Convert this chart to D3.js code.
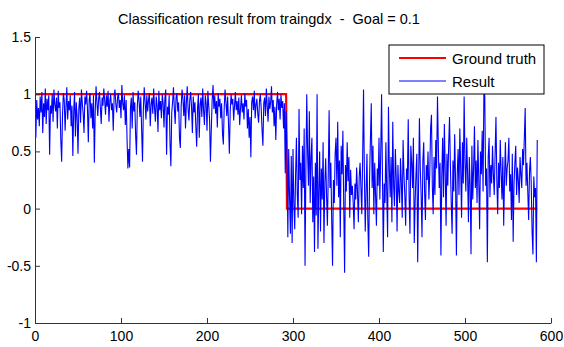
<!DOCTYPE html>
<html>
<head>
<meta charset="utf-8">
<script src="https://cdn.jsdelivr.net/npm/d3@7"></script>
<style>
  body { margin: 0; background: #fff; }
  svg { display: block; font-family: "Liberation Sans", Arial, sans-serif; }
</style>
</head>
<body>
<svg id="chart" width="564" height="347"></svg>
<script>
// chart text
const title = 'Classification result from traingdx  -  Goal = 0.1';
const seriesNames = ['Ground truth', 'Result'];
const xTicks = [0, 100, 200, 300, 400, 500, 600];
const yTicks = [-1, -0.5, 0, 0.5, 1, 1.5];

// ground truth: class 1 for the first 292 samples, class 0 for the next 292
const truthSteps = [
  {from: 1, to: 292, value: 1},
  {from: 293, to: 584, value: 0}
];

// network output (samples 1..292)
const resultClass1 = [
  0.62, 0.95, 0.78, 0.88, 0.72, 0.98, 0.84, 1.02, 0.66, 0.92, 0.80, 1.05, 0.74, 0.96, 0.86, 0.99, 0.47, 0.90, 0.83, 1.00,
  0.76, 1.04, 0.91, 0.85, 0.97, 0.70, 1.03, 0.88, 0.93, 0.60, 0.41, 0.82, 1.01, 0.95, 0.68, 0.89, 1.06, 0.78, 0.94, 0.86,
  0.99, 0.72, 0.90, 0.46, 0.85, 1.02, 0.63, 0.93, 0.80, 0.48, 0.88, 0.97, 0.75, 1.04, 0.92, 0.83, 0.66, 0.98, 0.91, 1.03,
  0.87, 0.58, 0.95, 1.01, 0.79, 0.92, 0.70, 0.99, 0.40, 0.84, 1.07, 0.93, 0.81, 0.96, 1.02, 0.88, 0.74, 0.97, 0.90, 1.05,
  0.95, 0.82, 0.99, 0.89, 1.03, 0.76, 0.94, 1.00, 0.86, 0.92, 0.68, 0.98, 1.04, 0.91, 0.84, 0.97, 1.01, 0.88, 0.95, 0.79,
  1.08, 0.92, 0.86, 0.99, 0.73, 0.95, 0.62, 0.35, 0.52, 0.36, 0.88, 0.97, 0.70, 1.02, 0.85, 0.93, 0.64, 0.47, 0.90, 1.03,
  0.94, 0.80, 0.98, 0.69, 0.41, 0.87, 1.06, 0.93, 0.78, 0.99, 0.85, 0.95, 1.01, 0.72, 0.91, 0.97, 0.83, 1.05, 0.88, 0.76,
  0.98, 0.90, 0.67, 1.03, 0.86, 0.94, 0.79, 1.00, 0.92, 0.71, 0.96, 1.04, 0.47, 0.89, 0.82, 0.99, 0.57, 0.37, 0.84, 0.93,
  1.06, 0.88, 0.74, 0.97, 1.01, 0.85, 0.93, 0.62, 0.53, 0.90, 1.04, 0.96, 0.81, 0.99, 0.70, 0.92, 1.07, 0.87, 0.77, 0.95,
  1.02, 0.89, 0.66, 0.98, 0.84, 0.93, 0.72, 0.54, 0.88, 1.00, 0.62, 0.91, 0.97, 0.80, 1.05, 0.86, 0.73, 0.99, 0.92, 0.68,
  1.03, 0.90, 0.78, 0.41, 0.69, 0.95, 1.08, 0.87, 0.99, 0.83, 0.94, 0.71, 1.01, 0.89, 0.96, 0.79, 0.92, 0.66, 0.56, 0.88,
  1.04, 0.93, 0.81, 0.98, 0.74, 0.48, 0.85, 1.00, 0.91, 0.96, 0.77, 0.90, 1.02, 0.86, 0.94, 0.82, 0.97, 0.73, 0.88, 0.99,
  0.84, 0.92, 0.78, 1.01, 0.89, 0.95, 0.70, 0.87, 0.62, 0.80, 0.45, 0.93, 0.98, 0.86, 1.03, 0.79, 0.91, 0.96, 0.83, 0.75,
  0.94, 1.00, 0.88, 0.69, 0.55, 0.92, 0.97, 0.81, 1.05, 0.90, 0.76, 0.98, 0.87, 0.93, 1.07, 0.84, 0.95, 0.72, 0.89, 0.60,
  0.91, 1.02, 0.86, 0.96, 0.78, 1.00, 0.88, 0.94, 0.70, 0.92, 0.31, 0.85
];

// network output (samples 293..584)
const resultClass0 = [
  0.49, -0.25, 0.52, 0.10, -0.22, 0.46, -0.30, 0.52, 0.05, -0.18, 0.30, 0.62, 0.12, -0.08, 0.87, 0.25, 0.40, -0.05, 0.55, 0.18,
  0.70, -0.50, 0.35, 1.00, 0.48, 0.20, 0.85, 0.05, 0.45, 0.62, -0.12, 0.28, -0.38, 0.40, -0.06, 1.00, -0.35, 0.15, 0.50, -0.20,
  0.35, 0.08, 0.58, -0.30, 0.22, 0.44, 0.12, -0.15, 0.30, 0.86, 0.18, 0.40, -0.10, -0.50, 0.25, 0.05, 0.48, 0.62, 0.20, 0.76,
  0.10, 0.42, -0.25, 0.55, 0.30, 0.68, 0.02, -0.56, 0.38, 0.15, 0.58, 0.24, 0.45, -0.08, 0.34, 0.12, 0.20, 0.05, -0.18, 0.22,
  0.08, 0.36, 0.14, -0.12, 0.28, 0.40, 0.18, -0.05, 0.45, 1.04, 0.30, -0.20, 0.15, 0.48, -0.10, -0.42, 0.25, 0.60, 0.92, 0.18,
  0.55, -0.05, 0.40, 0.12, -0.15, 0.35, 0.20, 0.62, 0.08, 0.48, 1.00, 0.30, -0.38, 0.22, 0.05, 0.58, 0.14, -0.25, 0.89, 0.36,
  0.10, 0.45, -0.12, 0.76, 0.20, 0.02, 0.52, 0.28, -0.20, 0.38, 0.15, 0.05, 0.44, 0.22, -0.08, 0.60, 0.30, 0.12, -0.15, 0.35,
  0.25, 0.78, 0.10, -0.22, 0.55, 0.40, 0.18, 0.62, -0.30, 0.05, 0.30, 0.48, -0.47, 0.20, 0.79, 0.35, 0.12, -0.25, 0.42, 0.58,
  0.15, -0.10, 0.38, 0.25, 0.50, 0.08, 0.30, 0.70, 0.82, 0.20, -0.05, 0.45, 0.12, 0.60, 0.35, 0.98, 0.55, 0.18, 0.40, -0.41,
  0.28, 0.62, 0.10, 0.74, 0.32, -0.15, 0.48, 0.20, 0.55, 0.80, 0.38, 0.05, -0.22, 0.42, 0.15, 0.65, 0.25, -0.41, 0.30, 0.52,
  0.12, 0.70, 0.35, -0.08, 0.58, 0.22, 0.98, 0.40, 0.15, 0.62, 0.30, -0.12, 0.45, 0.20, -0.40, 0.55, 0.08, 0.36, 0.72, 0.18,
  0.42, 0.05, 0.60, 0.25, -0.18, 0.50, 0.30, 0.68, 0.15, 1.05, 0.98, 0.20, 0.35, -0.47, 0.45, 0.62, 0.10, 0.38, 0.22, 0.55,
  0.30, 0.12, 0.48, 0.80, 0.25, -0.05, 0.40, 0.18, 0.60, 0.32, 0.08, 0.45, -0.15, 0.28, 0.58, 0.20, 0.35, 0.42, 0.62, 0.15,
  0.30, -0.10, 0.48, -0.29, 0.22, 0.40, 0.55, 0.12, 0.36, 0.25, 0.05, 0.45, 0.30, 0.18, 0.52, 0.38, 0.62, 0.88, 0.20, 0.40,
  0.15, -0.10, 0.32, 0.45, 0.22, -0.20, -0.40, 0.28, 0.10, 0.18, -0.47, 0.60
];

const margin = {top: 37, right: 13, bottom: 24, left: 35};
const width = 564, height = 347;

const svg = d3.select('#chart');
const innerW = width - margin.left - margin.right;
const innerH = height - margin.top - margin.bottom;

const xScale = d3.scaleLinear().domain([0, 600]).range([0, innerW]);
const yScale = d3.scaleLinear().domain([-1, 1.5]).range([innerH, 0]);

const g = svg.append('g').attr('transform', `translate(${margin.left},${margin.top})`);

// build point lists
const truthPts = [];
truthSteps.forEach(s => {
  truthPts.push([s.from, s.value]);
  truthPts.push([s.to, s.value]);
});
const resultPts = resultClass1.concat(resultClass0).map((v, i) => [i + 1, v]);

const line = d3.line().x(d => xScale(d[0])).y(d => yScale(d[1]));

g.append('path')
  .datum(truthPts)
  .attr('fill', 'none')
  .attr('stroke', '#ff0000')
  .attr('stroke-width', 2.2)
  .attr('d', line);

g.append('path')
  .datum(resultPts)
  .attr('fill', 'none')
  .attr('stroke', '#0000ff')
  .attr('stroke-width', 1.1)
  .attr('d', line);

// axes, ticks point inward like matlab
const xAxis = g.append('g')
  .attr('transform', `translate(0,${innerH})`)
  .call(d3.axisBottom(xScale).tickValues(xTicks).tickSizeInner(-5).tickSizeOuter(0).tickPadding(8));

const yAxis = g.append('g')
  .call(d3.axisLeft(yScale).tickValues(yTicks).tickSizeInner(-5).tickSizeOuter(0).tickPadding(4)
    .tickFormat(d => String(d)));

[xAxis, yAxis].forEach(a => {
  a.selectAll('path, line').attr('stroke', '#333').attr('stroke-width', 1);
  a.selectAll('text')
    .attr('fill', '#000')
    .style('font-size', '14px')
    .style('font-family', '"Liberation Sans", Arial, sans-serif');
});

// title
svg.append('text')
  .attr('x', 269)
  .attr('y', 24)
  .attr('text-anchor', 'middle')
  .style('font-size', '14.5px')
  .style('white-space', 'pre')
  .attr('fill', '#000')
  .text(title);

// legend
const legend = svg.append('g').attr('transform', 'translate(389,45)');
legend.append('rect')
  .attr('width', 155)
  .attr('height', 49)
  .attr('fill', '#fff')
  .attr('stroke', '#000')
  .attr('stroke-width', 1);

const legendColors = ['#ff0000', '#0000ff'];
const legendWidths = [2.2, 1.1];
seriesNames.forEach((name, i) => {
  const yy = 13 + i * 23;
  legend.append('line')
    .attr('x1', 10).attr('x2', 57)
    .attr('y1', yy).attr('y2', yy)
    .attr('stroke', legendColors[i])
    .attr('stroke-width', legendWidths[i]);
  legend.append('text')
    .attr('x', 63)
    .attr('y', yy + 5.5)
    .style('font-size', '15px')
    .attr('fill', '#000')
    .text(name);
});
</script>
</body>
</html>
